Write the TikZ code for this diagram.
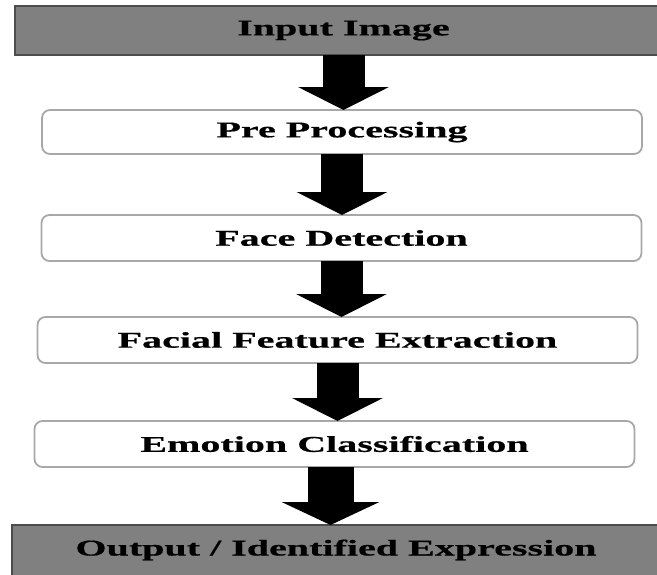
\documentclass[tikz,border=0pt]{standalone}
\usepackage{fontspec}
\usetikzlibrary{arrows.meta,positioning}
\newfontfamily\flowfont{Liberation Serif}[FakeStretch=1.78,FakeBold=0.6]
\definecolor{endgray}{HTML}{808080}
\definecolor{edgegray}{HTML}{A8A8A8}

\begin{document}
\begin{tikzpicture}[
  x=1pt,y=-1pt,
  endbox/.style={rectangle,inner sep=0pt,outer sep=0pt,fill=endgray,draw=black!70,line width=1.5pt,
                 font=\flowfont\bfseries\fontsize{22.5}{27}\selectfont},
  stagebox/.style={rectangle,rounded corners=8pt,inner sep=0pt,outer sep=0pt,minimum width=600pt,minimum height=45pt,
                 draw=edgegray,line width=1.8pt,fill=white,
                 font=\flowfont\bfseries\fontsize{22.5}{27}\selectfont},
  flowarrow/.style={draw=black,line width=42pt,-{Triangle[width=90pt,length=23pt]}},
]
  \useasboundingbox (0,0) rectangle (657,574);
  \clip (0,0) rectangle (657,574);

  % Stages
  \node[endbox,minimum width=657pt,minimum height=49pt] (inp) at (343.5,30.5) {Input Image};
  \node[stagebox,below=55pt of inp,xshift=-1.5pt,minimum height=44pt] (pre) {Pre Processing};
  \node[stagebox,below=61pt of pre,xshift=-0.5pt,minimum height=46pt] (face) {Face Detection};
  \node[stagebox,below=56pt of face,xshift=-4pt,minimum height=46pt] (feat) {Facial Feature Extraction};
  \node[stagebox,below=58pt of feat,xshift=-3pt,minimum height=46pt] (emo) {Emotion Classification};
  \node[endbox,below=58pt of emo,xshift=1.5pt,minimum width=648pt,minimum height=60pt,
        text height=16pt,text depth=15pt] (out) {Output / Identified Expression};

  % Arrows
  \draw[flowarrow] (inp.south) -- (inp.south |- pre.north);
  \draw[flowarrow] (pre.south) -- (pre.south |- face.north);
  \draw[flowarrow] (face.south) -- (face.south |- feat.north);
  \draw[flowarrow] (feat.south) -- (feat.south |- emo.north);
  \draw[flowarrow,line width=46pt,-{Triangle[width=97pt,length=23pt]}] ([xshift=-4pt]emo.south) -- ([xshift=-4pt]emo.south |- out.north);
\end{tikzpicture}
\end{document}
